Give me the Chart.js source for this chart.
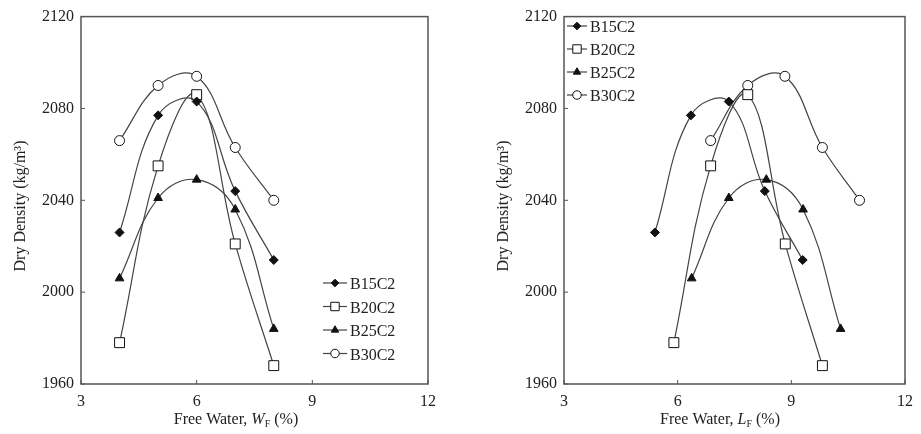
<!DOCTYPE html>
<html>
<head>
<meta charset="utf-8">
<script src="https://cdn.jsdelivr.net/npm/chart.js@4.4.1/dist/chart.umd.min.js"></script>
<style>
  body { margin: 0; background: #fff; }
  .wrap { display: flex; width: 921px; height: 434px; }
  canvas { display: block; }
</style>
</head>
<body>
<div class="wrap">
  <canvas id="chartW" width="460" height="434"></canvas>
  <canvas id="chartL" width="461" height="434"></canvas>
</div>
<script>
// series + values
const seriesNames = ['B15C2', 'B20C2', 'B25C2', 'B30C2'];
const waterW = [4, 5, 6, 7, 8];
const waterL_B15C2 = [5.4, 6.35, 7.35, 8.3, 9.3];
const waterL_B20C2 = [5.9, 6.87, 7.85, 8.84, 9.82];
const waterL_B25C2 = [6.37, 7.35, 8.34, 9.31, 10.3];
const waterL_B30C2 = [6.87, 7.85, 8.83, 9.82, 10.8];
const density_B15C2 = [2026, 2077, 2083, 2044, 2014];
const density_B20C2 = [1978, 2055, 2086, 2021, 1968];
const density_B25C2 = [2006, 2041, 2049, 2036, 1984];
const density_B30C2 = [2066, 2090, 2094, 2063, 2040];
const xTicks = [3, 6, 9, 12];
const yTicks = [1960, 2000, 2040, 2080, 2120];

const FONT = "'Liberation Serif', 'Times New Roman', serif";
const TEXT = '#222';

const densities = [density_B15C2, density_B20C2, density_B25C2, density_B30C2];
const waterL = [waterL_B15C2, waterL_B20C2, waterL_B25C2, waterL_B30C2];
const markers = [
  { pointStyle: 'rectRot', radius: 4.5, fill: '#111' },
  { pointStyle: 'rect', radius: 7, fill: '#fff' },
  { pointStyle: 'triangle', radius: 5, fill: '#111' },
  { pointStyle: 'circle', radius: 5, fill: '#fff' }
];

function makeDatasets(xArrays) {
  return seriesNames.map((name, i) => ({
    label: name,
    data: xArrays[i].map((xv, j) => ({ x: xv, y: densities[i][j] })),
    borderColor: '#444',
    borderWidth: 1.2,
    tension: 0.4,
    pointStyle: markers[i].pointStyle,
    pointRadius: markers[i].radius,
    pointBackgroundColor: markers[i].fill,
    pointBorderColor: '#111',
    pointBorderWidth: 1
  }));
}

const decor = {
  id: 'decor',
  beforeDatasetsDraw(chart) {
    const { ctx, chartArea: a, scales: { x, y } } = chart;
    ctx.save();
    ctx.strokeStyle = '#555';
    ctx.lineWidth = 1.5;
    ctx.strokeRect(a.left, a.top, a.right - a.left, a.bottom - a.top);
    ctx.lineWidth = 1;
    ctx.beginPath();
    xTicks.forEach(v => {
      const px = x.getPixelForValue(v);
      ctx.moveTo(px, a.bottom);
      ctx.lineTo(px, a.bottom - 4);
    });
    yTicks.forEach(v => {
      const py = y.getPixelForValue(v);
      ctx.moveTo(a.left, py);
      ctx.lineTo(a.left + 4, py);
    });
    ctx.stroke();
    ctx.restore();
  },
  afterDraw(chart, args, opts) {
    const { ctx } = chart;
    ctx.save();
    ctx.fillStyle = TEXT;
    ctx.textBaseline = 'alphabetic';

    // y axis title
    ctx.save();
    ctx.translate(opts.yTitleX, 206);
    ctx.rotate(-Math.PI / 2);
    ctx.font = '16px ' + FONT;
    ctx.textAlign = 'center';
    ctx.fillText('Dry Density (kg/m³)', 0, 5);
    ctx.restore();

    // x axis title with italic symbol + subscript
    const parts = [
      { t: 'Free Water, ', f: '16px ' + FONT, dy: 0 },
      { t: opts.symbol, f: 'italic 16px ' + FONT, dy: 0 },
      { t: 'F', f: '10px ' + FONT, dy: 3 },
      { t: ' (%)', f: '16px ' + FONT, dy: 0 }
    ];
    let total = 0;
    parts.forEach(p => { ctx.font = p.f; p.w = ctx.measureText(p.t).width; total += p.w; });
    let cx = opts.xTitleX - total / 2;
    ctx.textAlign = 'left';
    parts.forEach(p => { ctx.font = p.f; ctx.fillText(p.t, cx, 424 + p.dy); cx += p.w; });

    // legend: line sample + marker + label
    const lg = opts.legend;
    chart.data.datasets.forEach((ds, i) => {
      const ly = lg.y + i * lg.gap;
      ctx.strokeStyle = '#444';
      ctx.lineWidth = 1.2;
      ctx.beginPath();
      ctx.moveTo(lg.x, ly);
      ctx.lineTo(lg.x + lg.len, ly);
      ctx.stroke();
      ctx.fillStyle = ds.pointBackgroundColor;
      ctx.strokeStyle = '#111';
      ctx.lineWidth = 1;
      Chart.helpers.drawPoint(ctx, {
        pointStyle: ds.pointStyle,
        radius: ds.pointRadius * 0.85,
        rotation: 0,
        borderWidth: 1
      }, lg.x + lg.len / 2, ly);
      ctx.fillStyle = TEXT;
      ctx.font = '16px ' + FONT;
      ctx.textAlign = 'left';
      ctx.fillText(ds.label, lg.x + lg.len + 3, ly + 6);
    });
    ctx.restore();
  }
};

function buildChart(id, xArrays, axisWidth, padRight, decorOpts) {
  return new Chart(document.getElementById(id), {
    type: 'line',
    data: { datasets: makeDatasets(xArrays) },
    plugins: [decor],
    options: {
      responsive: false,
      animation: false,
      events: [],
      layout: { padding: { top: 9, right: padRight, left: 0, bottom: 0 } },
      plugins: {
        legend: { display: false },
        tooltip: { enabled: false },
        decor: decorOpts
      },
      scales: {
        x: {
          type: 'linear',
          min: 3,
          max: 12,
          afterBuildTicks: s => { s.ticks = xTicks.map(v => ({ value: v })); },
          afterFit: s => { s.height = 50; },
          grid: { display: false, drawTicks: false },
          border: { display: false },
          ticks: { padding: 8, color: TEXT, font: { family: FONT, size: 16 }, callback: v => String(v) }
        },
        y: {
          min: 1960,
          max: 2120,
          afterBuildTicks: s => { s.ticks = yTicks.map(v => ({ value: v })); },
          afterFit: s => { s.width = axisWidth; },
          grid: { display: false, drawTicks: false },
          border: { display: false },
          ticks: { padding: 7, color: TEXT, font: { family: FONT, size: 16 }, callback: v => String(v) }
        }
      }
    }
  });
}

buildChart('chartW', seriesNames.map(() => waterW), 81, 32, {
  symbol: 'W', yTitleX: 20, xTitleX: 236,
  legend: { x: 323, y: 283, gap: 23.5, len: 24 }
});
buildChart('chartL', waterL, 104, 13, {
  symbol: 'L', yTitleX: 43, xTitleX: 260,
  legend: { x: 107, y: 26, gap: 23, len: 20 }
});
</script>
</body>
</html>
